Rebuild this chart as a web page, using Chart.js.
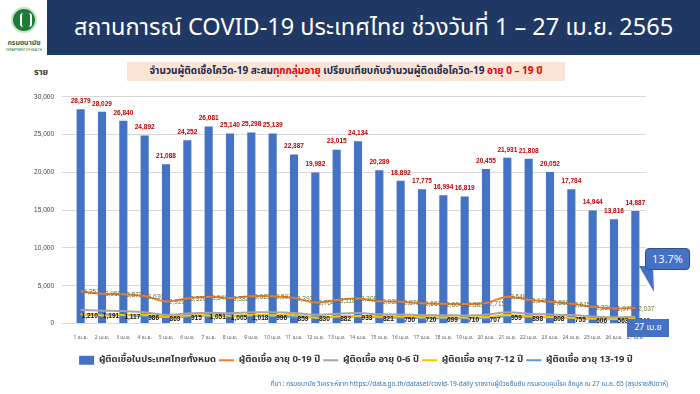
<!DOCTYPE html>
<html>
<head>
<meta charset="utf-8">
<script src="https://cdn.jsdelivr.net/npm/chart.js@4.4.0/dist/chart.umd.min.js"></script>
<style>
  body { margin: 0; width: 700px; height: 394px; background: #fff; position: relative; overflow: hidden;
         font-family: Tahoma, "Leelawadee UI", "Noto Sans Thai", "Noto Sans", sans-serif; }
  .banner { position: absolute; left: 47px; top: 0; width: 653px; height: 55px; background: #203864; }
  .title { position: absolute; left: 47px; top: 0; width: 653px; height: 56px; line-height: 56px;
           color: #fff; font-size: 23.5px; text-align: center; white-space: nowrap; }
  .logo { position: absolute; left: 11px; top: 7px; width: 26px; height: 26px; border-radius: 50%;
          background: #1e7b3a; border: 2px solid #c9e4c5; box-sizing: border-box; }
  .logo::after { content: ""; position: absolute; left: 7px; top: 4px; width: 8px; height: 14px;
                 border-left: 2px solid #fff; border-right: 2px solid #fff; border-radius: 3px; }
  .logotxt { position: absolute; left: 4px; top: 38px; width: 40px; text-align: center; font-size: 7px;
             font-weight: bold; color: #1e6b34; }
  .logosub { position: absolute; left: 4px; top: 48px; width: 40px; text-align: center; font-size: 3px; color: #1e6b34; }
  .unit { position: absolute; left: 34px; top: 65px; font-size: 9px; font-weight: bold; color: #333; }
  .sub { position: absolute; left: 127px; top: 62px; width: 438px; height: 19px; line-height: 19px; background: #fbe4d5;
         font-size: 10px; font-weight: bold; color: #1a2a4a; text-align: center; white-space: nowrap; }
  .sub .red { color: #e00000; }
  #wrap { position: absolute; left: 0; top: 85px; width: 700px; height: 295px; }
  .callout { position: absolute; left: 645px; top: 248px; width: 45px; height: 22px; background: #4472c4;
             border: 1px solid #2f528f; border-radius: 4px; box-sizing: border-box; color: #fff; font-size: 11px;
             line-height: 20px; text-align: center; font-family: "Open Sans", sans-serif; }
  .tail { position: absolute; left: 639px; top: 266px; width: 0; height: 0;
          border-top: 26px solid #4472c4; border-right: 14px solid transparent; transform: skewX(30deg); transform-origin: top; }
  .datebox { position: absolute; left: 627px; top: 319px; width: 42px; height: 18px; background: #4472c4;
             color: #fff; font-size: 8.5px; line-height: 18px; text-align: center; }
  .note { position: absolute; right: 32px; top: 379px; font-size: 6.5px; color: #2e75b6; white-space: nowrap; }
</style>
</head>
<body>
<div class="banner"></div>
<div class="title">สถานการณ์ COVID-19 ประเทศไทย ช่วงวันที่ 1 – 27 เม.ย. 2565</div>
<div class="logo"></div>
<div class="logotxt">กรมอนามัย</div>
<div class="logosub">DEPARTMENT OF HEALTH</div>
<div class="unit">ราย</div>
<div class="sub">จำนวนผู้ติดเชื้อโควิด-19 สะสม<span class="red">ทุกกลุ่มอายุ</span> เปรียบเทียบกับจำนวนผู้ติดเชื้อโควิด-19 <span class="red">อายุ 0 – 19 ปี</span></div>
<div id="wrap"><canvas id="chart"></canvas></div>
<div class="tail"></div>
<div class="callout">13.7%</div>
<div class="datebox">27 เม.ย</div>
<div class="note">ที่มา : กรมอนามัย วิเคราะห์จาก https://data.go.th/dataset/covid-19-daily รายงานผู้ป่วยยืนยัน กรมควบคุมโรค ข้อมูล ณ 27 เม.ย. 65 (สรุปรายสัปดาห์)</div>

<script>
// วันที่ 1-27 เม.ย.
const days = ["1 เม.ย.", "2 เม.ย.", "3 เม.ย.", "4 เม.ย.", "5 เม.ย.", "6 เม.ย.", "7 เม.ย.", "8 เม.ย.", "9 เม.ย.",
  "10 เม.ย.", "11 เม.ย.", "12 เม.ย.", "13 เม.ย.", "14 เม.ย.", "15 เม.ย.", "16 เม.ย.", "17 เม.ย.", "18 เม.ย.",
  "19 เม.ย.", "20 เม.ย.", "21 เม.ย.", "22 เม.ย.", "23 เม.ย.", "24 เม.ย.", "25 เม.ย.", "26 เม.ย.", "27 เม.ย."];

const totalCases = [28379, 28029, 26840, 24892, 21088, 24252, 26081, 25140, 25298, 25139, 22387, 19982, 23015,
  24134, 20289, 18892, 17775, 16994, 16819, 20455, 21931, 21808, 20052, 17784, 14944, 13816, 14887];
const age0to19 = [4257, 3950, 3873, 3630, 2920, 3320, 3541, 3382, 3623, 3597, 3393, 2764, 3118,
  3308, 2939, 2878, 2667, 2604, 2583, 2715, 3548, 3145, 2869, 2615, 2220, 1977, 2037];
const age0to6 = [1790, 1700, 1640, 1500, 1150, 1330, 1420, 1360, 1480, 1500, 1400, 1160, 1300,
  1380, 1220, 1200, 1110, 1090, 1070, 1160, 1480, 1300, 1200, 1110, 940, 820, 870];
const age7to12 = [1257, 1059, 1116, 1144, 901, 1075, 1070, 1017, 1125, 1101, 1134, 774, 936,
  995, 898, 928, 837, 815, 803, 848, 1109, 947, 861, 750, 674, 594, 621];
const age13to19 = [1210, 1191, 1117, 986, 869, 915, 1051, 1005, 1018, 996, 859, 830, 882,
  933, 821, 750, 720, 699, 710, 707, 959, 898, 808, 755, 606, 563, 546];

const yTicks = [0, 5000, 10000, 15000, 20000, 25000, 30000];

const THAI = 'Tahoma, "Leelawadee UI", "Noto Sans Thai", "Noto Sans", sans-serif';

// ป้ายตัวเลขบนกราฟ (ไม่มี datalabels plugin)
const valueLabels = {
  id: "valueLabels",
  afterDatasetsDraw(chart) {
    const ctx = chart.ctx;
    chart.data.datasets.forEach((ds, i) => {
      const s = ds.valueLabel;
      if (!s) return;
      const meta = chart.getDatasetMeta(i);
      ctx.save();
      ctx.font = s.font;
      ctx.fillStyle = s.color;
      ctx.textAlign = "center";
      ctx.textBaseline = "middle";
      meta.data.forEach((el, j) => {
        ctx.fillText(ds.data[j].toLocaleString("en-US"), el.x + s.dx, el.y + s.dy);
      });
      ctx.restore();
    });
  },
};

// legend อยู่กลางหน้า ไม่ใช่กลางพื้นที่กราฟ
const legendShift = {
  id: "legendShift",
  afterLayout(chart) {
    chart.legend.left += 33;
    chart.legend.right += 33;
  },
};

const lineBase = { type: "line", tension: 0.35, pointRadius: 0, borderWidth: 2, fill: false };

new Chart(document.getElementById("chart"), {
  data: {
    labels: days,
    datasets: [
      {
        type: "bar",
        label: "ผู้ติดเชื้อในประเทศไทยทั้งหมด",
        data: totalCases,
        backgroundColor: "#4472c4",
        barPercentage: 0.38,
        categoryPercentage: 1,
        order: 5,
        valueLabel: { font: "bold 6.5px Arial", color: "#c00000", dx: 0, dy: -8 },
      },
      { ...lineBase, label: "ผู้ติดเชื้อ อายุ 0-19 ปี", data: age0to19, borderColor: "#ed7d31", order: 1,
        valueLabel: { font: "6.5px Arial", color: "#6f7433", dx: 11, dy: 1 } },
      { ...lineBase, label: "ผู้ติดเชื้อ อายุ 0-6 ปี", data: age0to6, borderColor: "#a5a5a5", order: 2 },
      { ...lineBase, label: "ผู้ติดเชื้อ อายุ 7-12 ปี", data: age7to12, borderColor: "#ffc000", order: 3 },
      { ...lineBase, label: "ผู้ติดเชื้อ อายุ 13-19 ปี", data: age13to19, borderColor: "#5b9bd5", order: 4,
        valueLabel: { font: "bold 6.5px Arial", color: "#111", dx: 9, dy: 2 } },
    ],
  },
  options: {
    responsive: true,
    maintainAspectRatio: false,
    animation: false,
    layout: { padding: { top: 6, right: 54, left: 0, bottom: 5 } },
    scales: {
      x: {
        grid: { display: false },
        border: { color: "#d9d9d9" },
        ticks: { font: { size: 5, family: THAI }, color: "#595959", maxRotation: 0, autoSkip: false, padding: 3 },
        afterFit: (scale) => { scale.height = 29; },
      },
      y: {
        min: 0,
        max: 30000,
        afterBuildTicks: (scale) => { scale.ticks = yTicks.map((v) => ({ value: v })); },
        afterFit: (scale) => { scale.width = 70; },
        grid: { color: "#d9d9d9" },
        border: { display: false },
        ticks: {
          font: { size: 6.5, family: "Arial" },
          color: "#404040",
          padding: 8,
          callback: (v) => v.toLocaleString("en-US"),
        },
      },
    },
    plugins: {
      tooltip: { enabled: false },
      legend: {
        position: "bottom",
        labels: {
          usePointStyle: true,
          pointStyleWidth: 15,
          boxHeight: 9,
          padding: 3,
          color: "#333",
          font: { size: 9.5, weight: "bold", family: THAI },
          generateLabels(chart) {
            const items = Chart.defaults.plugins.legend.labels.generateLabels(chart);
            items.sort((a, b) => a.datasetIndex - b.datasetIndex);
            items.forEach((it) => {
              const ds = chart.data.datasets[it.datasetIndex];
              const isBar = it.datasetIndex === 0;
              it.pointStyle = isBar ? "rect" : "line";
              it.lineWidth = isBar ? 0 : 2;
              if (!isBar) it.strokeStyle = ds.borderColor;
            });
            return items;
          },
        },
      },
    },
  },
  plugins: [valueLabels, legendShift],
});
</script>
</body>
</html>
